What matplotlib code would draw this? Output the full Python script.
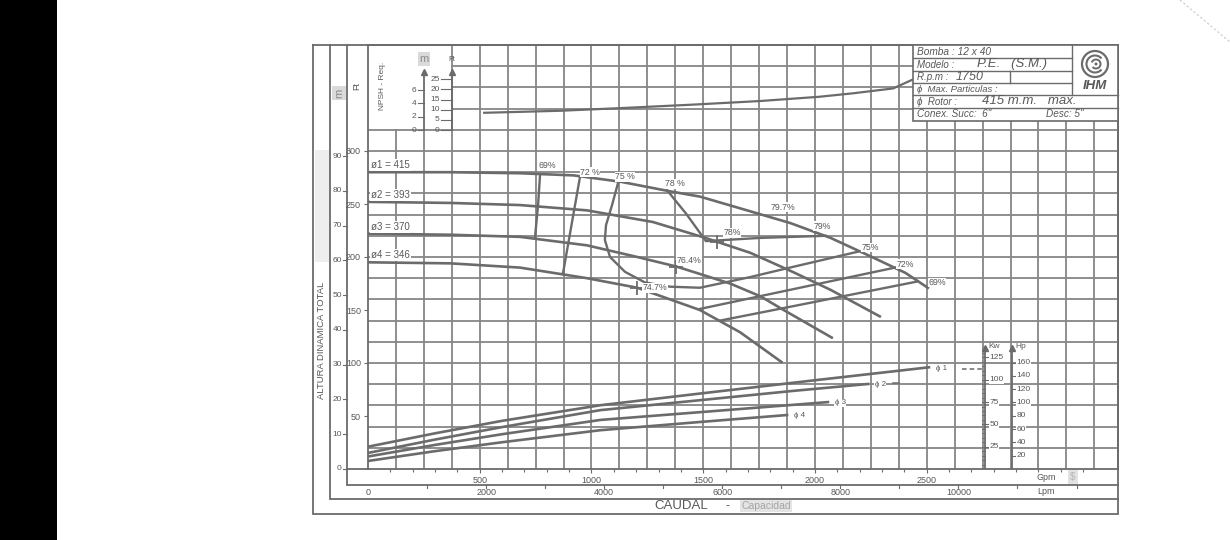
import numpy as np
import matplotlib.pyplot as plt
from matplotlib.patches import Rectangle, Circle, Arc

plt.rcParams['font.family'] = ['Liberation Sans', 'DejaVu Sans']

# ---- values ----
# head curves: Gpm vs Ft
h1_gpm = [0, 370, 680, 920, 1130, 1350, 1485, 1680, 1890, 2070, 2245, 2405, 2505]
h1_ft = [280, 280, 279, 277, 271, 262, 257, 245, 232, 218, 201, 185, 171]
h2_gpm = [0, 370, 680, 980, 1275, 1510, 1710, 1900, 2070, 2290]
h2_ft = [252, 251, 249, 244, 233, 218, 204, 186, 169, 144]
h3_gpm = [0, 370, 680, 980, 1205, 1380, 1485, 1620, 1755, 1860, 2075]
h3_ft = [222, 221, 219, 211, 200, 191, 184, 175, 163, 150, 124]
h4_gpm = [0, 370, 680, 980, 1205, 1485, 1665, 1850]
h4_ft = [195, 194, 190, 180, 171, 150, 129, 101]
impellers = ['ø1 = 415', 'ø2 = 393', 'ø3 = 370', 'ø4 = 346']

# iso-efficiency lines
e69l_gpm = [770, 761, 747]
e69l_ft = [278, 249, 218]
e72l_gpm = [949, 913, 872]
e72l_ft = [276, 233, 184]
e75_gpm = [1119, 1092, 1065, 1060, 1083, 1150, 1239, 1351, 1485, 1709, 1888, 2192]
e75_ft = [270, 249, 230, 216, 200, 186, 176, 172, 171, 181, 190, 205]
e78_gpm = [1338, 1423, 1512, 1754, 2049]
e78_ft = [263, 241, 215, 218, 220]
e72r_gpm = [1485, 1888, 2358]
e72r_ft = [151, 169, 190]
e69r_gpm = [1575, 1888, 2461]
e69r_ft = [140, 153, 177]

eff_text = ['69%', '72 %', '75 %', '78 %', '79.7%', '79%', '75%', '72%', '69%',
            '78%', '76.4%', '74.7%']
eff_gpm = [801, 993, 1150, 1374, 1857, 2031, 2246, 2403, 2546, 1630, 1436, 1284]
eff_ft = [286, 280, 275.5, 269, 247, 229, 209, 193, 176, 223, 197, 171]
bep_gpm = [1562, 1378, 1204]
bep_ft = [214, 191, 171]

# power curves: Gpm vs Kw
p1_gpm = [0, 300, 600, 1040, 1500, 2000, 2510]
p1_kw = [25, 40, 54, 71.5, 85, 99.5, 114]
p2_gpm = [0, 300, 600, 1040, 1500, 1900, 2237]
p2_kw = [18, 33, 47, 66, 77.5, 87.5, 95.3]
p3_gpm = [0, 300, 600, 1040, 1500, 2058]
p3_kw = [14, 27, 39, 55, 64, 75]
p4_gpm = [0, 300, 600, 1040, 1500, 1875]
p4_kw = [9, 20, 30, 43.5, 53, 60.5]
power_tags = ['ϕ 1', 'ϕ 2', 'ϕ 3', 'ϕ 4']

# NPSH required: Gpm vs Ft
npsh_gpm = [520, 860, 1130, 1450, 1755, 2020, 2170, 2350, 2440]
npsh_ft = [8.5, 9.5, 10.8, 12.5, 14.3, 16.4, 18.1, 20.5, 25]

gpm_ticks = [500, 1000, 1500, 2000, 2500]
lpm_ticks = [0, 2000, 4000, 6000, 8000, 10000]
ft_ticks = [50, 100, 150, 200, 250, 300]
m_ticks = [0, 10, 20, 30, 40, 50, 60, 70, 80, 90]
npsh_m_ticks = [0, 2, 4, 6]
npsh_ft_ticks = [0, 5, 10, 15, 20, 25]
kw_ticks = [25, 50, 75, 100, 125]
hp_ticks = [20, 40, 60, 80, 100, 120, 140, 160]

LINE = '#6b6b6b'
GRID = '#868686'
TXT = '#585858'
W, H = 1230, 540
XMAX = 3356


def box(l, t, r, b):
    return [l / W, 1 - b / H, (r - l) / W, (b - t) / H]


fig = plt.figure(figsize=(W / 100, H / 100), dpi=100)

# page layer (frame, side texts)
back = fig.add_axes([0, 0, 1, 1], zorder=0)
back.set_xlim(0, W)
back.set_ylim(H, 0)
back.axis('off')
back.add_patch(Rectangle((0, 0), 57, H, fc='black', ec='none'))
back.plot([1180, 1230], [0, 42], color='#c8c8c8', lw=0.8, ls=(0, (2, 2)))
back.add_patch(Rectangle((315, 150), 14, 112, fc='#eeeeee', ec='none'))
fr = dict(color=LINE, lw=1.3, solid_joinstyle='miter')
back.plot([313, 1118, 1118, 313, 313], [45, 45, 514, 514, 45], **fr)
back.plot([330, 330, 1118], [45, 499, 499], **fr)
back.plot([347, 347, 1118], [45, 485, 485], **fr)
back.plot([347, 368], [469, 469], **fr)
back.text(322, 340, 'ALTURA DINAMICA TOTAL', rotation=90, ha='center', va='center',
          fontsize=6.8, color=TXT)
back.text(339, 93, 'm', rotation=90, ha='center', va='center', fontsize=8, color='#8a8a8a',
          bbox=dict(fc='#dadada', ec='none', pad=1.5))
back.text(357, 86, 'Ft', rotation=90, ha='center', va='center', fontsize=6.5, color=TXT)
back.text(382, 86, 'NPSH - Req.', rotation=90, ha='center', va='center', fontsize=6,
          color=TXT)
back.text(681, 506, 'CAUDAL', ha='center', va='center', fontsize=9.5, color=TXT)
back.text(727, 506, '-', ha='center', va='center', fontsize=9, color=TXT)
back.text(766, 506, 'Capacidad', ha='center', va='center', fontsize=7.5, color='#a5a5a5',
          bbox=dict(fc='#e4e4e4', ec='none', pad=1))
back.text(1046, 477, 'Gpm', ha='center', va='center', fontsize=6.5, color=TXT)
back.text(1073, 477, '$', ha='center', va='center', fontsize=7, color='#b5b5b5',
          bbox=dict(fc='#e2e2e2', ec='none', pad=1.5))
back.text(1046, 492, 'Lpm', ha='center', va='center', fontsize=6.5, color=TXT)

# main chart: Gpm vs Ft
ax = fig.add_axes(box(368, 45, 1118, 469), zorder=1)
ax.patch.set_visible(False)
ax.set_xlim(0, XMAX)
ax.set_ylim(0, 400)
for s in ax.spines.values():
    s.set_color(LINE)
    s.set_linewidth(1.3)

for g in np.arange(125, XMAX, 125):
    ax.plot([g, g], [0, 320 if g < 375 else 400], color=GRID, lw=1.3, zorder=1)
for f in np.arange(20, 400, 20):
    ax.plot([0 if f <= 320 else 375, XMAX], [f, f], color=GRID, lw=1.3, zorder=1)

ax.set_xticks(gpm_ticks)
ax.set_xticks(np.arange(100, 3300, 100), minor=True)
ax.set_yticks(ft_ticks)
ax.tick_params(axis='both', colors=LINE, labelcolor=TXT, labelsize=6.5, length=3,
               width=0.8, pad=2)
ax.tick_params(axis='x', which='minor', length=2, width=0.8, colors=LINE)

ytr = ax.get_yaxis_transform()
xtr = ax.get_xaxis_transform()
for m in m_ticks:
    ft = m / 0.3048
    ax.text(-0.035, ft, str(m), transform=ytr, ha='right', va='center', fontsize=6,
            color=TXT)
    ax.plot([-0.034, -0.028], [ft, ft], transform=ytr, color=LINE, lw=0.8, clip_on=False)
for L in lpm_ticks:
    ax.text(L / 3.785, -0.0545, str(L), transform=xtr, ha='center', va='center',
            fontsize=6.5, color=TXT)
for L in range(1000, 13000, 1000):
    ax.plot([L / 3.785] * 2, [-0.038, -0.045], transform=xtr, color=LINE, lw=0.8,
            clip_on=False)

heads = [(h1_gpm, h1_ft), (h2_gpm, h2_ft), (h3_gpm, h3_ft), (h4_gpm, h4_ft)]
for (q, hd), name in zip(heads, impellers):
    ax.plot(q, hd, color=LINE, lw=1.9, zorder=2)
    ax.text(15, hd[0] + 6.5, name, ha='left', va='center', fontsize=7, color=TXT,
            zorder=3, bbox=dict(fc='white', ec='none', pad=0.8))

effs = [(e69l_gpm, e69l_ft), (e72l_gpm, e72l_ft), (e75_gpm, e75_ft), (e78_gpm, e78_ft),
        (e72r_gpm, e72r_ft), (e69r_gpm, e69r_ft)]
for q, hd in effs:
    ax.plot(q, hd, color=LINE, lw=1.7, zorder=2)
ax.plot(bep_gpm, bep_ft, ls='none', marker='+', ms=10, mew=1.3, color=LINE, zorder=3)
for t, q, hd in zip(eff_text, eff_gpm, eff_ft):
    ax.text(q, hd, t, ha='center', va='center', fontsize=6.3, color=TXT, zorder=3,
            bbox=dict(fc='white', ec='none', pad=0.3))

# NPSH layer
axn = fig.add_axes(box(368, 45, 1118, 469), zorder=2)
axn.set_xlim(0, XMAX)
axn.set_ylim(-167, 41.9)
axn.axis('off')
axn.plot(npsh_gpm, npsh_ft, color=LINE, lw=1.6)
for gx in [250, 375]:
    axn.plot([gx, gx], [0, 28], color=LINE, lw=1.3)
    axn.plot(gx, 28.8, marker='^', ms=5, color=LINE)
for m in npsh_m_ticks:
    axn.plot([224, 250], [m * 3.2808] * 2, color=LINE, lw=0.8)
    axn.text(215, m * 3.2808, str(m), ha='right', va='center', fontsize=6, color=TXT)
for f in npsh_ft_ticks:
    axn.plot([327, 375], [f, f], color=LINE, lw=0.8)
    axn.text(320, f, str(f), ha='right', va='center', fontsize=6, color=TXT)
axn.text(250, 35, 'm', ha='center', va='center', fontsize=8, color='#8a8a8a',
         bbox=dict(fc='#dadada', ec='none', pad=1.2))
axn.text(375, 35, 'Ft', ha='center', va='center', fontsize=5.5, color=TXT)

# power layer: Gpm vs Kw
axp = fig.add_axes(box(368, 45, 1118, 469), zorder=3)
axp.set_xlim(0, XMAX)
axp.set_ylim(0, 475.3)
axp.axis('off')
powers = [(p1_gpm, p1_kw), (p2_gpm, p2_kw), (p3_gpm, p3_kw), (p4_gpm, p4_kw)]
for (q, p), tag in zip(powers, power_tags):
    axp.plot(q, p, color=LINE, lw=1.9)
    axp.text(q[-1] + 30, p[-1] - 1, tag, ha='left', va='center', fontsize=5.8, color=TXT,
             bbox=dict(fc='white', ec='none', pad=0.3))
axp.plot([p1_gpm[-1] + 150, 2760], [p1_kw[-1] - 2] * 2, color=LINE, lw=1.1, ls=(0, (3, 2)))
axp.plot([p2_gpm[-1] + 110, p2_gpm[-1] + 140], [p2_kw[-1] + 1] * 2, color=LINE, lw=1.1)
for gx in [2760, 2880]:
    axp.plot([gx, gx], [0, 134], color=LINE, lw=1.3)
    axp.plot(gx, 135.5, marker='^', ms=5, color=LINE)
for k in np.arange(5, 135, 5):
    axp.plot([2748, 2760], [k, k], color=LINE, lw=0.6)
for k in kw_ticks:
    axp.plot([2760, 2774], [k, k], color=LINE, lw=0.8)
    axp.text(2780, k, str(k), ha='left', va='center', fontsize=6, color=TXT,
             bbox=dict(fc='white', ec='none', pad=0.3))
for hp in hp_ticks:
    axp.plot([2880, 2898], [hp * 0.7457] * 2, color=LINE, lw=0.8)
    axp.text(2902, hp * 0.7457, str(hp), ha='left', va='center', fontsize=6, color=TXT,
             bbox=dict(fc='white', ec='none', pad=0.3))
axp.text(2775, 137, 'Kw', ha='left', va='center', fontsize=6, color=TXT)
axp.text(2895, 137, 'Hp', ha='left', va='center', fontsize=6, color=TXT)

# title block
front = fig.add_axes([0, 0, 1, 1], zorder=5)
front.set_xlim(0, W)
front.set_ylim(H, 0)
front.axis('off')
front.add_patch(Rectangle((913, 45), 205, 76, fc='white', ec=LINE, lw=1.2))
for yy in [58, 71, 83]:
    front.plot([913, 1072], [yy, yy], color=LINE, lw=1)
for yy in [95, 108]:
    front.plot([913, 1118], [yy, yy], color=LINE, lw=1)
front.plot([1072, 1072], [45, 95], color=LINE, lw=1)
front.plot([1010, 1010], [71, 83], color=LINE, lw=1)
it = dict(style='italic', color=TXT, va='center', ha='left')
front.text(917, 52, 'Bomba : 12 x 40', fontsize=7.3, **it)
front.text(917, 65, 'Modelo :', fontsize=7, **it)
front.text(977, 64, 'P.E.   (S.M.)', fontsize=9.5, **it)
front.text(917, 77, 'R.p.m :', fontsize=7, **it)
front.text(956, 77, '1750', fontsize=9, **it)
front.text(917, 89, 'ϕ  Max. Particulas :', fontsize=6.8, **it)
front.text(917, 102, 'ϕ  Rotor :', fontsize=7, **it)
front.text(982, 101, '415 m.m.   max.', fontsize=9.5, **it)
front.text(917, 114, 'Conex. Succ:  6"', fontsize=7.2, **it)
front.text(1046, 114, 'Desc: 5"', fontsize=7.2, **it)
front.add_patch(Circle((1095, 64), 13, fc='none', ec=LINE, lw=1.6))
front.add_patch(Arc((1095, 64), 17, 17, theta1=40, theta2=320, ec=LINE, lw=1.5))
front.add_patch(Arc((1096, 64), 9, 9, theta1=200, theta2=500, ec=LINE, lw=1.4))
front.add_patch(Circle((1096, 64), 1.5, fc=LINE, ec='none'))
front.text(1095, 86, 'IHM', ha='center', va='center', fontsize=9.5, fontweight='bold',
           style='italic', color=TXT)

fig.savefig('out.png', dpi=100, facecolor='white')
